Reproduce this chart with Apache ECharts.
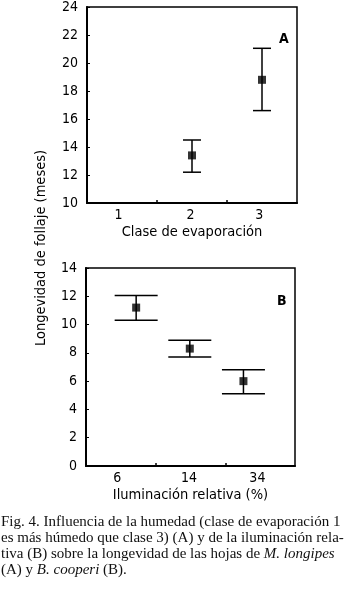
<!DOCTYPE html>
<html>
<head>
<meta charset="utf-8">
<script src="https://cdn.jsdelivr.net/npm/echarts@6/dist/echarts.min.js"></script>
<style>
html,body{margin:0;padding:0;background:#fff;}
#main{width:349px;height:591px;}
</style>
</head>
<body>
<div id="main"></div>
<script>
// panel A: clase de evaporacion
var catsA = ['1', '2', '3'];
var xA = [1.5, 2.5];          // posicion en el eje (0..3)
var meanA = [13.4, 18.8];
var lowA = [12.2, 16.6];
var highA = [14.5, 21.05];

// panel B: iluminacion relativa
var catsB = ['6', '14', '34'];
var xB = [0.72, 1.49, 2.26];
var meanB = [11.2, 8.3, 6.0];
var lowB = [10.3, 7.7, 5.1];
var highB = [12.05, 8.9, 6.8];

var ticksA = [10, 24];   // min, max
var ticksB = [0, 14];
var labelPos = [0.45, 1.48, 2.46];

var FONT = '"DejaVu Sans Condensed","Liberation Sans",sans-serif';
var SERIF = '"Liberation Serif",serif';

function pts(xs, ys){
	var r = [];
	for(var i=0;i<xs.length;i++){ r.push([xs[i], ys[i]]); }
	return r;
}
function bars(xs, lo, hi){
	var r = [];
	for(var i=0;i<xs.length;i++){ r.push([xs[i], lo[i], hi[i]]); }
	return r;
}
//barra de error con tapas
function errRender(capPx){
	return function(params, api){
		var x = api.value(0);
		var bot = api.coord([x, api.value(1)]);
		var top = api.coord([x, api.value(2)]);
		var h = capPx/2;
		var st = {stroke:'#000', lineWidth:1.5};
		return {type:'group', children:[
			{type:'line', shape:{x1:top[0],y1:top[1],x2:bot[0],y2:bot[1]}, style:st},
			{type:'line', shape:{x1:top[0]-h,y1:top[1],x2:top[0]+h,y2:top[1]}, style:st},
			{type:'line', shape:{x1:bot[0]-h,y1:bot[1],x2:bot[0]+h,y2:bot[1]}, style:st}
		]};
	};
}
function xAxisOpt(idx, cats, name){
	return {
		type:'value', gridIndex:idx, min:0, max:3,
		name:name, nameLocation:'middle', nameGap:22,
		nameTextStyle:{fontFamily:FONT, fontSize:14.5, color:'#000'},
		axisLine:{lineStyle:{color:'#000', width:2}},
		axisTick:{show:true, inside:true, length:3, customValues:[1,2], lineStyle:{color:'#000', width:1.5}},
		axisLabel:{customValues:labelPos, margin:5, fontFamily:FONT, fontSize:14, color:'#000',
			formatter:function(v){ return cats[Math.floor(v)]; }},
		splitLine:{show:false}
	};
}
function yAxisOpt(idx, mm){
	return {
		type:'value', gridIndex:idx, min:mm[0], max:mm[1], interval:2,
		axisLine:{show:true, lineStyle:{color:'#000', width:2}},
		axisTick:{show:true, inside:true, length:3, lineStyle:{color:'#000', width:1}},
		axisLabel:{margin:9, fontFamily:FONT, fontSize:14, color:'#000'},
		splitLine:{show:false}
	};
}

var chart = echarts.init(document.getElementById('main'));
var option = {
	backgroundColor:'#fff',
	animation:false,
	grid:[
		{left:87, top:6, width:210, height:197, show:true, borderColor:'#000', borderWidth:1.5},
		{left:86, top:268, width:209, height:198, show:true, borderColor:'#000', borderWidth:1.5}
	],
	xAxis:[ xAxisOpt(0, catsA, 'Clase de evaporación'), xAxisOpt(1, catsB, 'Iluminación relativa (%)') ],
	yAxis:[ yAxisOpt(0, ticksA), yAxisOpt(1, ticksB) ],
	series:[
		{type:'custom', xAxisIndex:0, yAxisIndex:0, renderItem:errRender(18), encode:{x:0, y:[1,2]}, data:bars(xA, lowA, highA)},
		{type:'scatter', xAxisIndex:0, yAxisIndex:0, symbol:'rect', symbolSize:8, itemStyle:{color:'#000'}, data:pts(xA, meanA)},
		{type:'custom', xAxisIndex:1, yAxisIndex:1, renderItem:errRender(43), encode:{x:0, y:[1,2]}, data:bars(xB, lowB, highB)},
		{type:'scatter', xAxisIndex:1, yAxisIndex:1, symbol:'rect', symbolSize:8, itemStyle:{color:'#000'}, data:pts(xB, meanB)}
	],
	graphic:[
		{type:'text', left:279, top:32, style:{text:'A', font:'bold 14px '+FONT, fill:'#000'}},
		{type:'text', left:277, top:294, style:{text:'B', font:'bold 14px '+FONT, fill:'#000'}},
		{type:'text', x:41, y:248, rotation:Math.PI/2, style:{text:'Longevidad de follaje (meses)', font:'14.5px '+FONT, fill:'#000', align:'center', verticalAlign:'middle'}},
		{type:'text', x:1, y:522, style:{text:'Fig. 4. Influencia de la humedad (clase de evaporación 1', font:'15px '+SERIF, fill:'#111', verticalAlign:'middle'}},
		{type:'text', x:1, y:538, style:{text:'es más húmedo que clase 3) (A) y de la iluminación rela-', font:'15px '+SERIF, fill:'#111', verticalAlign:'middle'}},
		{type:'text', x:1, y:554, style:{text:'tiva (B) sobre la longevidad de las hojas de {i|M. longipes}', font:'15px '+SERIF, fill:'#111', verticalAlign:'middle',
			rich:{i:{fontStyle:'italic', fontFamily:SERIF, fontSize:15, fill:'#111'}}}},
		{type:'text', x:1, y:570, style:{text:'(A) y {i|B. cooperi} (B).', font:'15px '+SERIF, fill:'#111', verticalAlign:'middle',
			rich:{i:{fontStyle:'italic', fontFamily:SERIF, fontSize:15, fill:'#111'}}}}
	]
};
chart.setOption(option);
window.addEventListener('resize', function(){ chart.resize(); });
</script>
</body>
</html>
